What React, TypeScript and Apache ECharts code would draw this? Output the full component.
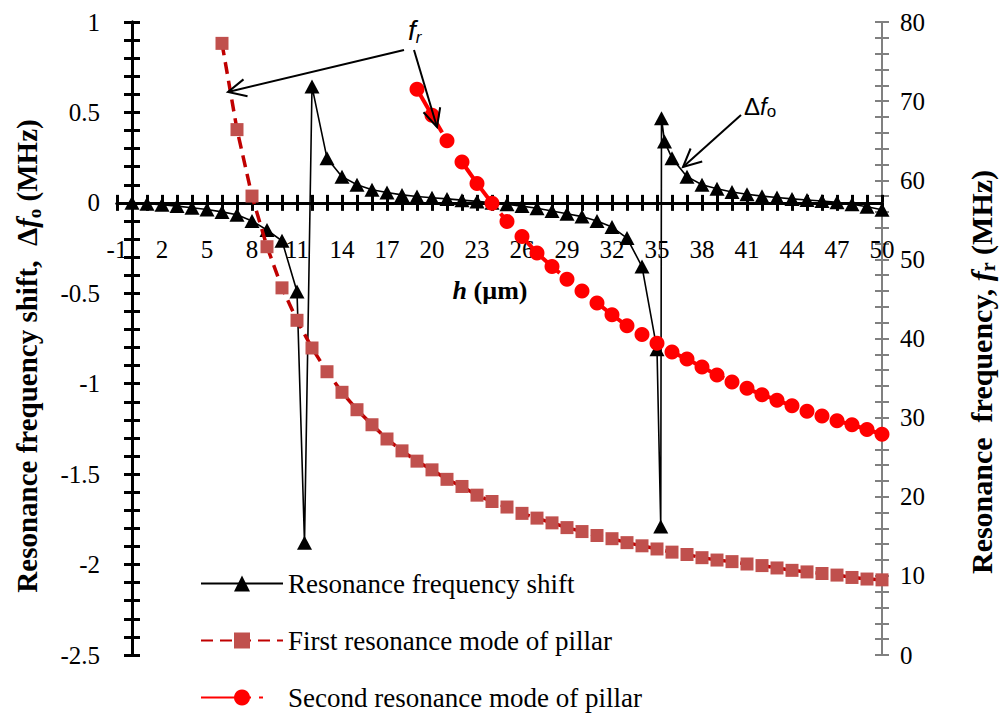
import React, { useEffect, useRef } from "react";
import * as echarts from "echarts";

// ---- data ----
const shiftH = [0, 1, 2, 3, 4, 5, 6, 7, 8, 9, 10, 11, 11.5, 12, 13, 14, 15, 16, 17, 18, 19, 20, 21, 22, 23, 24, 25, 26, 27, 28, 29, 30, 31, 32, 33, 34, 35, 35.25, 35.3, 35.5, 36, 37, 38, 39, 40, 41, 42, 43, 44, 45, 46, 47, 48, 49, 50];
const shiftVals = [0, -0.005, -0.01, -0.018, -0.027, -0.037, -0.05, -0.066, -0.1, -0.15, -0.21, -0.49, -1.88, 0.643, 0.247, 0.145, 0.1, 0.072, 0.057, 0.044, 0.035, 0.028, 0.022, 0.015, 0.008, 0, -0.008, -0.018, -0.03, -0.045, -0.06, -0.076, -0.1, -0.134, -0.195, -0.352, -0.81, -1.79, 0.468, 0.339, 0.247, 0.145, 0.1, 0.078, 0.06, 0.048, 0.037, 0.03, 0.022, 0.016, 0.01, 0.003, -0.008, -0.022, -0.038];

const mode1H = [6, 7, 8, 9, 10, 11, 12, 13, 14, 15, 16, 17, 18, 19, 20, 21, 22, 23, 24, 25, 26, 27, 28, 29, 30, 31, 32, 33, 34, 35, 36, 37, 38, 39, 40, 41, 42, 43, 44, 45, 46, 47, 48, 49, 50];
const mode1Vals = [77.3, 66.4, 58.0, 51.6, 46.4, 42.3, 38.8, 35.8, 33.2, 31.0, 29.1, 27.3, 25.8, 24.5, 23.4, 22.2, 21.3, 20.2, 19.4, 18.7, 17.9, 17.3, 16.7, 16.1, 15.6, 15.1, 14.7, 14.2, 13.8, 13.4, 13.0, 12.7, 12.3, 12.0, 11.8, 11.5, 11.3, 11.0, 10.7, 10.5, 10.3, 10.1, 9.8, 9.6, 9.5];

const mode2H = [19, 20, 21, 22, 23, 24, 25, 26, 27, 28, 29, 30, 31, 32, 33, 34, 35, 36, 37, 38, 39, 40, 41, 42, 43, 44, 45, 46, 47, 48, 49, 50];
const mode2Vals = [71.5, 68.2, 65.0, 62.3, 59.6, 57.1, 54.8, 52.9, 50.8, 49.1, 47.5, 46.0, 44.5, 43.0, 41.6, 40.5, 39.4, 38.3, 37.4, 36.4, 35.4, 34.5, 33.7, 32.9, 32.2, 31.5, 30.8, 30.2, 29.6, 29.1, 28.5, 27.9];

const seriesNames = [
  "Resonance frequency shift",
  "First resonance mode of pillar",
  "Second resonance mode of pillar",
];

// axis ranges
const xRange = { min: -1, max: 50, interval: 3 };
const leftRange = { min: -2.5, max: 1, interval: 0.5 };
const rightRange = { min: 0, max: 80, interval: 10 };

const SERIF = "Liberation Serif";
const SANS = "Liberation Sans";

function pairs(xs: number[], ys: number[]) {
  return xs.map((x, i) => [x, ys[i]]);
}

function arrow(x1: number, y1: number, x2: number, y2: number, len = 20, ang = 0.45) {
  const a = Math.atan2(y1 - y2, x1 - x2);
  const p1 = [x2 + len * Math.cos(a + ang), y2 + len * Math.sin(a + ang)];
  const p2 = [x2 + len * Math.cos(a - ang), y2 + len * Math.sin(a - ang)];
  return [
    { type: "line", z: 100, shape: { x1, y1, x2, y2 }, style: { stroke: "#000", lineWidth: 2 } },
    { type: "polyline", z: 100, shape: { points: [p1, [x2, y2], p2] }, style: { stroke: "#000", lineWidth: 2 } },
  ];
}

const tickRich = { t: { fontFamily: SERIF, fontSize: 25, color: "#000", fill: "#000", lineHeight: 28 } };

export default function App() {
  const ref = useRef<HTMLDivElement>(null);
  useEffect(() => {
    if (!ref.current) return;
    const chart = echarts.init(ref.current, undefined, { renderer: "svg" });
    const labelFont = { fontFamily: SERIF, fontSize: 25, color: "#000", fontWeight: "normal" };
    const blackAxis = (inside: boolean, showLabel: boolean, extra: any) => ({
      type: "value",
      min: extra.min,
      max: extra.max,
      interval: extra.interval,
      position: extra.position,
      axisLine: { show: true, onZero: true, onZeroAxisIndex: 0, lineStyle: { color: "#000", width: 3 } },
      axisTick: { show: true, inside, length: 8, lineStyle: { color: "#000", width: 3 } },
      minorTick: { show: true, length: 8, lineStyle: { color: "#000", width: 3 }, splitNumber: extra.splitNumberMinor },
      axisLabel: {
        show: showLabel,
        ...labelFont,
        margin: extra.labelMargin,
        formatter: (v: number) => "{t|" + String(v) + "}",
        rich: tickRich,
      },
      splitLine: { show: false },
      minorSplitLine: { show: false },
    });
    const grayAxis = (inside: boolean, showLabel: boolean) => ({
      type: "value",
      position: "right",
      ...rightRange,
      axisLine: { show: true, onZero: false, lineStyle: { color: "#808080", width: 2 } },
      axisTick: { show: true, inside, length: 7, lineStyle: { color: "#808080", width: 2 } },
      minorTick: { show: true, splitNumber: 5, length: 7, lineStyle: { color: "#808080", width: 2 } },
      axisLabel: {
        show: showLabel,
        ...labelFont,
        margin: 18,
        formatter: (v: number) => "{t|" + String(v) + "}",
        rich: tickRich,
      },
      splitLine: { show: false },
      minorSplitLine: { show: false },
    });

    const richT = (size: number) => ({
      b: { fontFamily: SERIF, fontSize: size, fontWeight: "bold", fill: "#000", lineHeight: size + 4 },
      bi: { fontFamily: SERIF, fontSize: size, fontWeight: "bold", fontStyle: "italic", fill: "#000", lineHeight: size + 4 },
      sub: { fontFamily: SERIF, fontSize: Math.round(size * 0.65), fontWeight: "bold", fill: "#000", lineHeight: Math.round(size * 0.65), verticalAlign: "bottom" },
    });

    chart.setOption({
      animation: false,
      backgroundColor: "#fff",
      textStyle: { fontFamily: SERIF },
      grid: { left: 117, right: 118, top: 22, bottom: 63, containLabel: false },
      xAxis: [
        blackAxis(false, true, { ...xRange, position: "bottom", splitNumberMinor: 3, labelMargin: -420 }),
        blackAxis(true, false, { ...xRange, position: "bottom", splitNumberMinor: 3, labelMargin: 0 }),
      ],
      yAxis: [
        blackAxis(false, true, { ...leftRange, position: "left", splitNumberMinor: 5, labelMargin: 17 }),
        blackAxis(true, false, { ...leftRange, position: "left", splitNumberMinor: 5, labelMargin: 0 }),
        grayAxis(false, true),
        grayAxis(true, false),
      ],
      legend: {
        orient: "vertical",
        left: 200,
        top: 570,
        padding: 0,
        itemWidth: 82,
        itemHeight: 20,
        itemGap: 30,
        textStyle: { fontFamily: SERIF, fontSize: 27, color: "#000", lineHeight: 26 },
        data: seriesNames,
      },
      series: [
        {
          name: seriesNames[0],
          type: "line",
          xAxisIndex: 0,
          yAxisIndex: 0,
          data: pairs(shiftH, shiftVals),
          symbol: "triangle",
          symbolSize: [15, 14],
          itemStyle: { color: "#000" },
          lineStyle: { color: "#000", width: 1.6 },
          z: 3,
        },
        {
          name: seriesNames[1],
          type: "line",
          xAxisIndex: 0,
          yAxisIndex: 2,
          data: pairs(mode1H, mode1Vals),
          symbol: "rect",
          symbolSize: 13,
          itemStyle: { color: "#C0504D" },
          lineStyle: { color: "#C00000", width: 3.5, type: [12, 7] },
          z: 4,
        },
        {
          name: seriesNames[2],
          type: "line",
          xAxisIndex: 0,
          yAxisIndex: 2,
          data: pairs(mode2H, mode2Vals),
          symbol: "circle",
          symbolSize: 15,
          itemStyle: { color: "#FF0000" },
          lineStyle: { color: "#FF0000", width: 4, type: [50, 8, 4, 30] },
          z: 5,
        },
      ],
      graphic: [
        {
          type: "text",
          x: 27,
          y: 356,
          rotation: Math.PI / 2,
          style: {
            text: "{b|Resonance frequency shift,  Δ}{bi|f}{sub|o}{b| (MHz)}",
            rich: richT(29),
            align: "center",
            verticalAlign: "middle",
          },
        },
        {
          type: "text",
          x: 981,
          y: 372,
          rotation: Math.PI / 2,
          style: {
            text: "{b|Resonance  frequency, }{bi|f}{sub|r}{b| (MHz)}",
            rich: richT(30),
            align: "center",
            verticalAlign: "middle",
          },
        },
        {
          type: "text",
          x: 490,
          y: 290,
          style: {
            text: "{bi|h}{b| (µm)}",
            rich: richT(26),
            align: "center",
            verticalAlign: "middle",
          },
        },
        {
          type: "text",
          x: 408,
          y: 30,
          z: 100,
          style: {
            text: "{i|f}{s|r}",
            rich: {
              i: { fontFamily: SANS, fontSize: 28, fontStyle: "italic", fill: "#000", lineHeight: 32 },
              s: { fontFamily: SANS, fontSize: 17, fontStyle: "italic", fill: "#000", lineHeight: 17, verticalAlign: "bottom" },
            },
            align: "left",
            verticalAlign: "middle",
          },
        },
        {
          type: "text",
          x: 744,
          y: 106,
          z: 100,
          style: {
            text: "{d|Δ}{i|f}{s|o}",
            rich: {
              d: { fontFamily: SANS, fontSize: 24, fill: "#000", lineHeight: 28 },
              i: { fontFamily: SANS, fontSize: 24, fontStyle: "italic", fill: "#000", lineHeight: 28 },
              s: { fontFamily: SANS, fontSize: 17, fill: "#000", lineHeight: 17, verticalAlign: "bottom" },
            },
            align: "left",
            verticalAlign: "middle",
          },
        },
        ...arrow(404, 50, 228, 92),
        ...arrow(414, 50, 437, 127),
        ...arrow(741, 115, 683, 167),
      ],
    });
    return () => chart.dispose();
  }, []);
  return (
    <div
      ref={ref}
      style={{ position: "fixed", left: 0, top: 0, width: 1000, height: 718, background: "#fff" }}
    />
  );
}
